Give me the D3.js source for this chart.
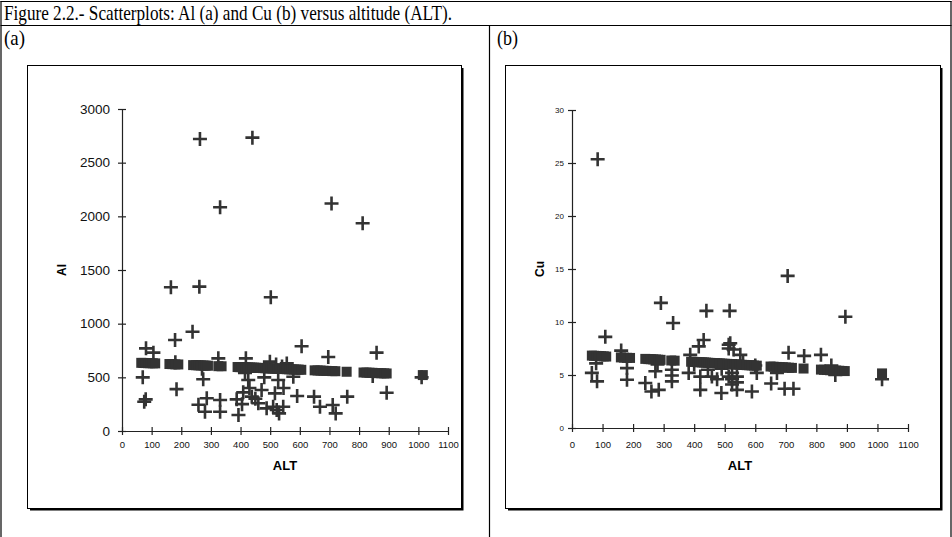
<!DOCTYPE html>
<html><head><meta charset="utf-8">
<script src="https://cdn.jsdelivr.net/npm/d3@7"></script>
<style>
html,body{margin:0;padding:0;background:#fff;}
svg{display:block;}
</style></head>
<body>
<svg id="c" width="952" height="537"></svg>
<script>
// ---------- DATA ----------
const xTicks = [0,100,200,300,400,500,600,700,800,900,1000,1100];
const alTicks = [0,500,1000,1500,2000,2500,3000];
const cuTicks = [0,5,10,15,20,25,30];

// Panel (a): observed Al vs ALT
const altA = [263,440,331,707,812,165,261,502,238,179,81,106,606,696,859,70,75,80,184,274,258,286,280,331,331,393,387,409,426,438,460,471,488,516,522,418,499,325,591,648,668,711,721,760,893,1011,846,527,510,544,530,578,520,540,415,450,480,405,556,180,270,430,545];
const alA  = [2720,2733,2085,2120,1935,1339,1345,1246,925,848,770,730,790,690,730,500,273,295,390,482,245,305,180,289,180,149,295,360,475,320,258,382,211,351,196,677,646,677,326,320,226,242,164,320,357,500,512,475,226,226,164,506,620,600,540,300,500,250,630,640,580,400,400];

// Panel (b): observed Cu vs ALT
const altB = [84,291,331,440,516,706,895,109,431,513,513,79,65,82,161,180,180,240,260,284,273,280,327,327,327,387,415,382,420,420,458,475,489,524,524,524,518,529,551,513,540,540,540,589,605,652,671,709,696,725,760,815,849,862,1015,400,445,490,560,600];
const cuB  = [25.35,11.8,9.9,11.05,11.05,14.35,10.5,8.6,8.3,7.85,7.5,6.1,5.2,4.4,7.3,5.65,4.55,4.25,3.45,3.6,5.35,6.0,5.5,4.95,4.4,6.9,7.7,5.2,4.85,3.6,4.85,4.6,3.3,5.2,4.6,4.1,8.0,7.4,6.9,4.85,3.6,4.85,4.3,3.45,5.2,4.2,5.2,7.1,3.7,3.7,6.8,6.9,5.9,5.0,4.6,6.0,5.5,5.6,6.2,5.9];

// Fitted (predicted) values at sample altitudes (square markers)
const fitAlt = [65,72,80,88,95,104,112,160,170,180,190,240,250,258,266,275,282,290,325,336,390,397,404,411,418,425,432,439,446,453,460,468,476,484,492,500,508,516,524,532,540,548,556,564,572,580,588,596,605,650,660,670,680,690,700,710,720,758,815,825,835,845,855,865,875,885,893,1015];
const fitAl  = [635,634,633,632,632,631,630,624,623,621,620,614,613,612,611,610,609,608,604,603,596,595,595,594,593,592,591,590,590,589,588,587,586,585,584,583,582,581,580,579,578,577,576,575,574,573,572,572,570,565,564,563,561,560,559,558,557,552,545,544,543,542,540,539,538,537,536,521];
const fitCu  = [6.83,6.81,6.80,6.79,6.77,6.76,6.74,6.66,6.64,6.62,6.61,6.52,6.50,6.49,6.47,6.46,6.44,6.43,6.37,6.35,6.25,6.24,6.23,6.22,6.20,6.19,6.18,6.17,6.15,6.14,6.13,6.12,6.10,6.09,6.07,6.06,6.05,6.03,6.02,6.00,5.99,5.98,5.96,5.95,5.93,5.92,5.91,5.89,5.88,5.80,5.78,5.76,5.74,5.73,5.71,5.69,5.67,5.61,5.51,5.49,5.47,5.45,5.44,5.42,5.40,5.38,5.37,5.15];

const titleText = "Figure 2.2.- Scatterplots: Al (a) and Cu (b) versus altitude (ALT).";

// ---------- DRAW ----------
const svg = d3.select("#c");
const ink = "#333";
const SANS = "'Liberation Sans', Arial, sans-serif";
const SERIF = "'Liberation Serif', 'Times New Roman', serif";
const fmt = d3.format("d");

// table frame
const frame = svg.append("g").attr("stroke","#000").attr("stroke-width",1.2).attr("fill","none");
frame.append("line").attr("x1",0.5).attr("x2",951.5).attr("y1",1.5).attr("y2",1.5);
frame.append("line").attr("x1",0.5).attr("x2",951.5).attr("y1",25.5).attr("y2",25.5);
frame.append("line").attr("x1",1).attr("x2",1).attr("y1",1).attr("y2",537);
frame.append("line").attr("x1",951).attr("x2",951).attr("y1",1).attr("y2",537);
frame.append("line").attr("x1",489.5).attr("x2",489.5).attr("y1",25).attr("y2",537);

svg.append("text").attr("x",4).attr("y",20).attr("font-family",SERIF).attr("font-size",21)
  .attr("textLength",448).attr("lengthAdjust","spacingAndGlyphs").text(titleText);
svg.append("text").attr("x",4).attr("y",45).attr("font-family",SERIF).attr("font-size",21)
  .attr("textLength",21).attr("lengthAdjust","spacingAndGlyphs").text("(a)");
svg.append("text").attr("x",497).attr("y",45).attr("font-family",SERIF).attr("font-size",21)
  .attr("textLength",21).attr("lengthAdjust","spacingAndGlyphs").text("(b)");

function panel(cfg){
  const g = svg.append("g");
  // chart box with shadow
  g.append("path").attr("d",`M${cfg.box[2]+1.5},${cfg.box[1]+3} V${cfg.box[3]+1.5} H${cfg.box[0]+3}`)
    .attr("stroke","#000").attr("stroke-width",2).attr("fill","none");
  g.append("rect").attr("x",cfg.box[0]+0.5).attr("y",cfg.box[1]+0.5)
    .attr("width",cfg.box[2]-cfg.box[0]).attr("height",cfg.box[3]-cfg.box[1])
    .attr("fill","#fff").attr("stroke","#000").attr("stroke-width",1);

  const x = d3.scaleLinear().domain([0,1100]).range(cfg.xr);
  const y = d3.scaleLinear().domain([cfg.yTicks[0], cfg.yTicks[cfg.yTicks.length-1]]).range(cfg.yr);

  // axes
  const ax = g.append("g").attr("transform",`translate(0,${cfg.yr[0]})`)
    .call(d3.axisBottom(x).tickValues(xTicks).tickFormat(fmt).tickSize(4).tickPadding(cfg.xPad).tickSizeOuter(0));
  ax.selectAll(".tick line").attr("y1",-4).attr("y2",4);
  ax.selectAll("text").attr("font-family",SANS).attr("font-size",9.5).attr("fill","#111");
  const ay = g.append("g").attr("transform",`translate(${cfg.xr[0]},0)`)
    .call(d3.axisLeft(y).tickValues(cfg.yTicks).tickFormat(fmt).tickSize(4).tickPadding(cfg.yPad).tickSizeOuter(0));
  ay.selectAll(".tick line").attr("x1",4).attr("x2",-4);
  ay.selectAll("text").attr("font-family",SANS).attr("font-size",cfg.yFont).attr("fill","#111");
  g.selectAll(".domain, .tick line").attr("stroke","#222").attr("stroke-width",1.2);

  // axis titles
  g.append("text").attr("x",(cfg.xr[0]+cfg.xr[1])/2).attr("y",cfg.altY).attr("text-anchor","middle")
    .attr("font-family",SANS).attr("font-weight","bold").attr("font-size",13).text("ALT");
  g.append("text").attr("transform",`translate(${cfg.ylabX},${(cfg.yr[0]+cfg.yr[1])/2}) rotate(-90)`)
    .attr("text-anchor","middle").attr("font-family",SANS).attr("font-weight","bold").attr("font-size",12).text(cfg.yName);

  // crosses
  const s = 7;
  g.append("g").selectAll("path").data(cfg.alt.map((a,i)=>[a,cfg.val[i]])).join("path")
    .attr("d",d=>`M${x(d[0])-s},${y(d[1])}H${x(d[0])+s}M${x(d[0])},${y(d[1])-s}V${y(d[1])+s}`)
    .attr("stroke",ink).attr("stroke-width",2.6).attr("fill","none");
  // fitted squares
  const q = 5;
  g.append("g").selectAll("rect").data(fitAlt.map((a,i)=>[a,cfg.fit[i]])).join("rect")
    .attr("x",d=>x(d[0])-q).attr("y",d=>y(d[1])-q).attr("width",2*q).attr("height",2*q).attr("fill",ink);
}

panel({box:[27,65,461,508], xr:[122,448], yr:[431,109], yTicks:alTicks, yFont:13.5, yPad:8, xPad:6,
  alt:altA, val:alA, fit:fitAl, yName:"Al", ylabX:66, altY:470});
panel({box:[505,65,940,508], xr:[572,908], yr:[428,110], yTicks:cuTicks, yFont:8, yPad:4, xPad:9,
  alt:altB, val:cuB, fit:fitCu, yName:"Cu", ylabX:544, altY:470});
</script>
</body></html>
